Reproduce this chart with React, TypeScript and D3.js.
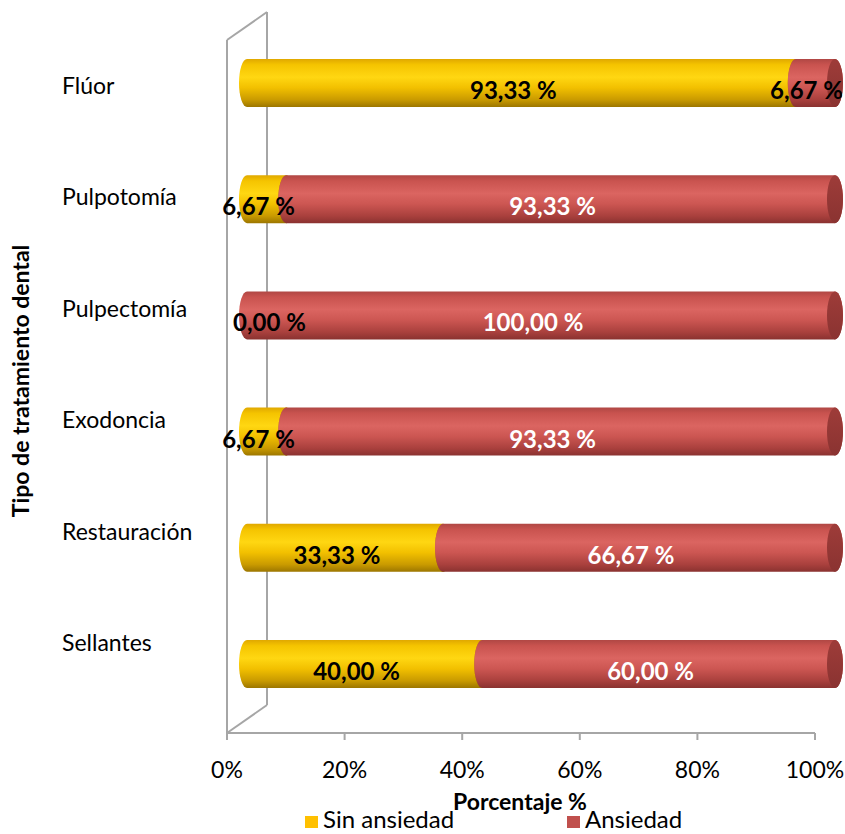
import React from "react";
import * as d3 from "d3";

const categories = ["Flúor", "Pulpotomía", "Pulpectomía", "Exodoncia", "Restauración", "Sellantes"];
const sinAnsiedad = [93.33, 6.67, 0.0, 6.67, 33.33, 40.0];
const ansiedad = [6.67, 93.33, 100.0, 93.33, 66.67, 60.0];
const xTicks = [0, 20, 40, 60, 80, 100];
const seriesNames = ["Sin ansiedad", "Ansiedad"];

const W = 845;
const H = 834;
const FONT = "Lato, 'Open Sans', sans-serif";

const fmt = (v: number) => v.toFixed(2).replace(".", ",") + " %";

export default function App() {
  const x = d3.scaleLinear().domain([0, 100]).range([227, 815]);
  const depthX = 40;
  const depthY = -28;
  const barDX = 20;
  const yBar = d3.scalePoint<string>().domain(categories).range([83, 664]);
  const yLabel = d3.scalePoint<string>().domain(categories).range([86, 643]);
  const floorY = 733;
  const wallTop = 40;
  const barH = 48;
  const rx = 8;
  const ry = barH / 2;

  const bodyPath = (xa: number, xb: number, cy: number) => {
    const t = cy - ry;
    const b = cy + ry;
    return `M${xa},${t} L${xb},${t} A${rx},${ry} 0 0 1 ${xb},${b} L${xa},${b} A${rx},${ry} 0 0 1 ${xa},${t} Z`;
  };

  const grid = "#A6A6A6";

  return (
    <svg width={W} height={H} style={{ position: "absolute", left: 0, top: 0 }}>
      <defs>
        <linearGradient id="gY" x1="0" y1="0" x2="0" y2="1">
          <stop offset="0" stopColor="#E0A800" />
          <stop offset="0.12" stopColor="#F5C400" />
          <stop offset="0.38" stopColor="#FFD712" />
          <stop offset="0.6" stopColor="#F2C000" />
          <stop offset="0.85" stopColor="#C99A00" />
          <stop offset="1" stopColor="#9C7600" />
        </linearGradient>
        <linearGradient id="gR" x1="0" y1="0" x2="0" y2="1">
          <stop offset="0" stopColor="#B04744" />
          <stop offset="0.12" stopColor="#C9534F" />
          <stop offset="0.38" stopColor="#DB6561" />
          <stop offset="0.6" stopColor="#CC5652" />
          <stop offset="0.85" stopColor="#A9403D" />
          <stop offset="1" stopColor="#8A3230" />
        </linearGradient>
        <linearGradient id="gYc" x1="0" y1="0" x2="0" y2="1">
          <stop offset="0" stopColor="#C39300" />
          <stop offset="1" stopColor="#A27A00" />
        </linearGradient>
        <linearGradient id="gRc" x1="0" y1="0" x2="0" y2="1">
          <stop offset="0" stopColor="#9E3C39" />
          <stop offset="1" stopColor="#8A3331" />
        </linearGradient>
      </defs>

      {/* back wall & floor */}
      <g stroke={grid} strokeWidth={2} fill="none">
        <line x1={x(0)} y1={wallTop} x2={x(0)} y2={floorY} />
        <line x1={x(0)} y1={wallTop} x2={x(0) + depthX} y2={wallTop + depthY} />
        <line x1={x(0) + depthX} y1={wallTop + depthY} x2={x(0) + depthX} y2={floorY + depthY} />
        <line x1={x(0)} y1={floorY} x2={x(0) + depthX} y2={floorY + depthY} />
        <line x1={x(0)} y1={floorY} x2={x(100)} y2={floorY} />
        {xTicks.map((t) => (
          <line key={t} x1={x(t)} y1={floorY} x2={x(t)} y2={floorY + 7} />
        ))}
      </g>

      {/* tick labels */}
      {xTicks.map((t) => (
        <text key={t} x={x(t)} y={778} textAnchor="middle" fontFamily={FONT} fontSize={23} fill="#000">
          {t + "%"}
        </text>
      ))}

      {/* category labels */}
      {categories.map((c) => (
        <text key={c} x={62} y={(yLabel(c) as number) + 8} fontFamily={FONT} fontSize={23} fill="#000">
          {c}
        </text>
      ))}

      {/* bars */}
      {categories.map((c, i) => {
        const cy = yBar(c) as number;
        const segs = [
          { v0: 0, v1: sinAnsiedad[i], fill: "url(#gY)", cap: "url(#gYc)" },
          { v0: sinAnsiedad[i], v1: sinAnsiedad[i] + ansiedad[i], fill: "url(#gR)", cap: "url(#gRc)" },
        ];
        return (
          <g key={c}>
            {segs.map((s, j) =>
              s.v1 - s.v0 <= 0 ? null : (
                <g key={j}>
                  <path d={bodyPath(x(s.v0) + barDX, x(s.v1) + barDX, cy)} fill={s.fill} />
                  <ellipse cx={x(s.v1) + barDX} cy={cy} rx={rx} ry={ry} fill={s.cap} />
                </g>
              )
            )}
          </g>
        );
      })}

      {/* data labels */}
      {categories.map((c, i) => {
        const cy = (yBar(c) as number) + 8;
        const vals = [
          { v0: 0, v1: sinAnsiedad[i], color: "#000" },
          { v0: sinAnsiedad[i], v1: sinAnsiedad[i] + ansiedad[i], color: "#fff" },
        ];
        return vals.map((s, j) => {
          const w = s.v1 - s.v0;
          const mid = x((s.v0 + s.v1) / 2) + barDX - 8;
          let color = s.color;
          let props: { x: number; textAnchor: "start" | "middle" | "end" } = { x: mid, textAnchor: "middle" };
          if (w === 0) props = { x: x(0) + 6, textAnchor: "start" };
          if (j === 1 && w < 10) {
            color = "#000";
            props = { x: x(100) + barDX + 8, textAnchor: "end" };
          }
          return (
            <text
              key={c + j}
              {...props}
              y={cy + 8}
              fontFamily={FONT}
              fontWeight="bold"
              fontSize={24}
              fill={color}
            >
              {fmt(w)}
            </text>
          );
        });
      })}

      {/* axis titles */}
      <text x={520} y={810} textAnchor="middle" fontFamily={FONT} fontWeight="bold" fontSize={23} fill="#000">
        Porcentaje %
      </text>
      <text
        transform={`translate(29,381) rotate(-90)`}
        textAnchor="middle"
        fontFamily={FONT}
        fontWeight="bold"
        fontSize={23}
        fill="#000"
      >
        Tipo de tratamiento dental
      </text>

      {/* legend */}
      <rect x={305} y={816} width={13} height={12} fill="#FFC000" />
      <text x={323} y={828} fontFamily={FONT} fontSize={24} fill="#000">
        {seriesNames[0]}
      </text>
      <rect x={567} y={816} width={13} height={12} fill="#C0504D" />
      <text x={585} y={828} fontFamily={FONT} fontSize={24} fill="#000">
        {seriesNames[1]}
      </text>
    </svg>
  );
}
